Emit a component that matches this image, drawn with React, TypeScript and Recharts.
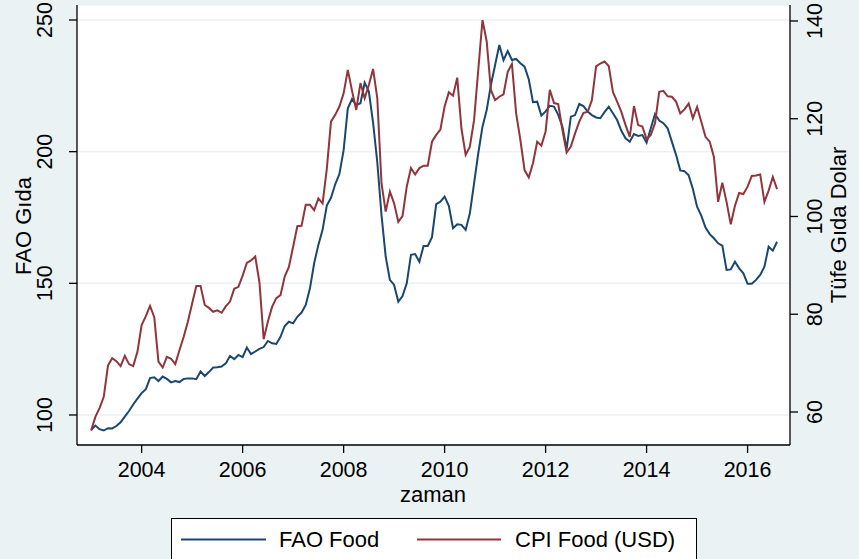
import { CartesianGrid, Line, LineChart, XAxis, YAxis } from "recharts";

// monthly series, Jan 2003 .. Aug 2016
const startYear = 2003;

const faoFood = [
  94.3, 96.0, 94.6, 94.1, 95.0, 94.9, 95.8, 97.2, 99.4, 101.5, 104.0, 106.2,
  108.3, 109.8, 114.0, 114.3, 112.9, 114.6, 113.7, 112.4, 112.9, 112.5, 113.7, 113.9,
  113.9, 113.6, 116.5, 114.8, 116.3, 118.0, 118.1, 118.4, 119.6, 122.4, 121.2, 122.8,
  122.0, 125.6, 123.1, 124.1, 125.1, 125.8, 128.1, 127.2, 127.0, 129.7, 133.8, 135.4,
  134.8, 137.3, 138.9, 141.8, 148.1, 157.6, 164.6, 170.3, 179.5, 182.5, 187.6, 191.5,
  200.6, 216.5, 220.0, 217.7, 218.4, 226.2, 222.8, 211.0, 196.0, 176.0, 160.1, 151.3,
  149.4, 143.0, 145.2, 150.0, 160.8, 161.1, 158.2, 164.2, 164.2, 167.5, 180.1, 181.0,
  182.9, 179.4, 170.9, 172.4, 172.2, 170.3, 176.6, 188.0, 199.4, 209.5, 215.8, 225.3,
  232.9, 240.5, 234.8, 238.2, 234.8, 235.2, 233.6, 232.3, 227.5, 218.8, 219.0, 213.7,
  215.3, 217.4, 217.1, 214.0, 209.5, 201.0, 213.3, 213.9, 218.1, 217.3, 215.2, 213.9,
  213.0, 212.7, 215.0, 217.1, 214.6, 212.0, 207.9, 205.1, 203.8, 206.7, 206.0, 206.3,
  203.4, 208.9, 214.3, 211.8, 210.8, 208.9, 203.8, 198.8, 192.9, 192.6, 191.0, 185.8,
  179.1, 175.7, 171.2, 168.7, 167.1, 165.2, 164.3, 155.1, 155.3, 158.2, 155.7, 153.8,
  149.8, 149.8, 151.3, 153.2, 156.3, 163.9, 162.4, 165.8,
];

const cpiFoodUsd = [
  56.2, 59.0, 60.8, 63.1, 69.5, 71.0, 70.4, 69.4, 71.5, 69.8, 69.4, 72.3,
  77.8, 79.6, 81.7, 79.4, 70.3, 69.1, 71.3, 70.9, 69.8, 72.7, 75.4, 78.5,
  82.2, 85.8, 85.8, 81.9, 81.3, 80.5, 80.8, 80.3, 81.6, 82.6, 85.2, 85.6,
  87.9, 90.5, 91.0, 91.8, 86.5, 74.9, 78.5, 81.5, 83.3, 83.9, 87.7, 89.7,
  93.8, 98.0, 98.1, 102.4, 102.4, 101.3, 103.7, 102.7, 109.7, 119.4, 120.8, 122.5,
  125.2, 130.0, 125.7, 121.8, 127.3, 124.2, 126.9, 130.2, 124.2, 106.8, 101.0, 105.1,
  102.7, 98.9, 100.1, 106.1, 109.9, 108.6, 109.9, 110.4, 110.4, 115.3, 116.7, 117.8,
  122.5, 125.4, 124.7, 128.4, 118.0, 112.6, 114.3, 119.7, 130.0, 140.2, 135.8, 125.9,
  123.8, 124.5, 125.0, 129.6, 131.2, 121.1, 115.7, 109.5, 108.0, 110.9, 115.3, 114.5,
  117.4, 125.9, 123.2, 123.0, 117.7, 113.1, 114.3, 117.0, 119.4, 121.2, 121.4, 123.8,
  130.7, 131.3, 131.7, 130.8, 125.5, 123.5, 121.4, 118.7, 116.3, 122.6, 118.7, 118.4,
  115.8, 116.7, 119.1, 125.5, 125.7, 124.6, 124.5, 123.5, 121.1, 121.9, 123.1, 120.1,
  122.4, 119.4, 116.3, 115.3, 112.2, 103.0, 106.9, 103.0, 98.4, 102.2, 104.8, 104.6,
  106.1, 108.3, 108.4, 108.6, 103.0, 105.3, 108.1, 105.6,
];

const yearTicks = [2004, 2006, 2008, 2010, 2012, 2014, 2016];
const faoTicks = [100, 150, 200, 250];
const cpiTicks = [60, 80, 100, 120, 140];

const data = faoFood.map((fao, i) => ({
  t: startYear + i / 12,
  fao,
  cpi: cpiFoodUsd[i],
}));

const NAVY = "#1a476f";
const MAROON = "#90353b";
const BG = "#eaf2f3";
const FONT = "'Liberation Sans', Arial, Helvetica, sans-serif";

function XTick({ x, y, payload }: any) {
  return (
    <text x={x} y={y + 22} textAnchor="middle" fontSize={21.5} fontFamily={FONT} fill="#000">
      {payload.value}
    </text>
  );
}

function LeftTick({ x, y, payload }: any) {
  const bx = x - 15;
  return (
    <text x={bx} y={y} transform={`rotate(-90 ${bx} ${y})`} textAnchor="middle" fontSize={21.5} fontFamily={FONT} fill="#000">
      {payload.value}
    </text>
  );
}

function RightTick({ x, y, payload }: any) {
  const bx = x + 22;
  return (
    <text x={bx} y={y} transform={`rotate(-90 ${bx} ${y})`} textAnchor="middle" fontSize={21.5} fontFamily={FONT} fill="#000">
      {payload.value}
    </text>
  );
}

export default function App() {
  return (
    <div style={{ position: "relative", width: 859, height: 559, overflow: "hidden", background: BG }}>
      <style>{"body{margin:0}"}</style>
      <LineChart width={859} height={559} data={data} margin={{ top: 5, right: 0, bottom: 54, left: 0 }}>
        <CartesianGrid yAxisId="l" vertical={false} stroke={BG} strokeWidth={1.5} fill="#fff" fillOpacity={1} />
        <XAxis
          dataKey="t"
          type="number"
          domain={[2002.72, 2016.84]}
          ticks={yearTicks}
          allowDataOverflow
          height={60}
          tickSize={8}
          tick={<XTick />}
          axisLine={{ stroke: "#000", strokeWidth: 1.3 }}
          tickLine={{ stroke: "#000", strokeWidth: 1.3 }}
        />
        <YAxis
          yAxisId="l"
          orientation="left"
          width={77}
          domain={[88.6, 255.7]}
          ticks={faoTicks}
          allowDataOverflow
          tickSize={8}
          tick={<LeftTick />}
          axisLine={{ stroke: "#000", strokeWidth: 1.3 }}
          tickLine={{ stroke: "#000", strokeWidth: 1.3 }}
        />
        <YAxis
          yAxisId="r"
          orientation="right"
          width={69}
          domain={[53.25, 143.27]}
          ticks={cpiTicks}
          allowDataOverflow
          tickSize={8}
          tick={<RightTick />}
          axisLine={{ stroke: "#000", strokeWidth: 1.3 }}
          tickLine={{ stroke: "#000", strokeWidth: 1.3 }}
        />
        <Line yAxisId="l" dataKey="fao" name="FAO Food" stroke={NAVY} strokeWidth={2} dot={false} isAnimationActive={false} />
        <Line yAxisId="r" dataKey="cpi" name="CPI Food (USD)" stroke={MAROON} strokeWidth={2} dot={false} isAnimationActive={false} />
      </LineChart>
      <svg width={859} height={559} style={{ position: "absolute", left: 0, top: 0, pointerEvents: "none" }} fontFamily={FONT} fontSize={22}>
        <text x={31} y={226} transform="rotate(-90 31 226)" textAnchor="middle">FAO Gıda</text>
        <text x={846} y={225} transform="rotate(-90 846 225)" textAnchor="middle">Tüfe Gıda Dolar</text>
        <text x={433} y={502} textAnchor="middle">zaman</text>
        <rect x={171.5} y={518.5} width={525} height={60} fill="#fff" stroke="#000" />
        <line x1={181} y1={539.5} x2={266} y2={539.5} stroke={NAVY} strokeWidth={2} />
        <text x={279} y={547}>FAO Food</text>
        <line x1={417} y1={539.5} x2={501} y2={539.5} stroke={MAROON} strokeWidth={2} />
        <text x={515} y={547}>CPI Food (USD)</text>
      </svg>
    </div>
  );
}
